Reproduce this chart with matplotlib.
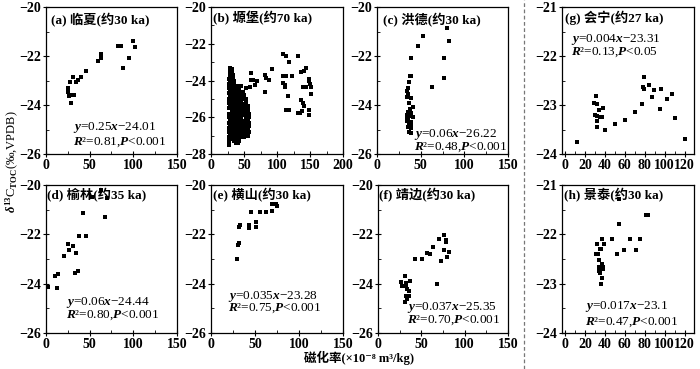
import matplotlib.pyplot as plt
from matplotlib.lines import Line2D
from matplotlib.ticker import MultipleLocator

plt.rcParams['font.family'] = ['Liberation Serif', 'DejaVu Serif', 'Noto Sans CJK SC']
plt.rcParams['mathtext.fontset'] = 'custom'
plt.rcParams['mathtext.rm'] = 'Liberation Serif:bold'
plt.rcParams['mathtext.it'] = 'Liberation Serif:italic:bold'
plt.rcParams['mathtext.bf'] = 'Liberation Serif:bold'
plt.rcParams['font.size'] = 10

# (a) Linxia
a_x = [25.6, 25.6, 26.4, 27.6, 28.3, 28.7, 30.6, 32.1, 34.1, 36.4, 40.2, 45.9,
       60.1, 62.8, 63.2, 83.0, 85.7, 88.0, 94.5, 99.5, 102.2, 25.0]
a_y = [-23.32, -23.40, -23.65, -23.05, -23.60, -23.90, -22.86, -23.60, -23.05,
       -22.98, -22.86, -22.63, -22.22, -21.90, -22.08, -21.58, -21.58, -22.49,
       -22.08, -21.38, -21.65, -23.45]

# (b) Yuanbao, scattered points
b_x = [60.5, 60.5, 64, 70, 66.5, 59, 53, 81.5, 84, 88, 92.5, 82.5,
       109, 113, 117.5, 131.5, 144, 141.5, 136.5, 122.5, 114, 109, 109, 111.5,
       111.5, 116.5, 114, 118, 131.5, 135, 138, 141.5, 140, 136.5, 148, 149,
       148, 148, 150, 151.5, 151.5, 144, 139]
b_y = [-23.60, -23.96, -23.96, -24.00, -24.24, -24.36, -24.42, -23.69, -23.84,
       -23.96, -23.38, -24.60, -22.56, -22.65, -23.00, -22.69, -23.33, -23.47,
       -23.56, -23.78, -23.75, -23.75, -24.11, -24.24, -24.36, -24.82, -25.60,
       -25.60, -25.78, -25.78, -25.64, -25.38, -25.20, -25.05, -25.60, -25.87,
       -23.90, -24.05, -24.18, -24.36, -24.73, -24.33, -24.33]

# (b) Yuanbao, dense cluster read column by column
b_cloud_cols = [27.5, 29.5, 31.5, 33.5, 35.5, 38, 40.5, 43, 45.5, 48, 50.5, 53, 55.5, 58]
b_cloud_ys = [
    [-23.9, -24.2, -24.4, -24.7, -25.0, -25.2, -25.5, -25.8, -26.0, -26.3, -26.6, -26.8, -27.1, -27.3, -27.5],
    [-23.3, -23.5, -23.7, -24.0, -24.2, -24.4, -24.6, -24.9, -25.1, -25.3, -25.5, -25.8, -26.0, -26.2, -26.4, -26.7, -26.9, -27.1],
    [-23.4, -23.6, -23.8, -24.1, -24.3, -24.5, -24.7, -25.0, -25.2, -25.4, -25.6, -25.9, -26.1, -26.3, -26.5, -26.8, -27.0],
    [-23.7, -23.9, -24.1, -24.3, -24.6, -24.8, -25.0, -25.2, -25.5, -25.7, -25.9, -26.1, -26.4, -26.6, -26.8, -27.0, -27.2],
    [-24.0, -24.2, -24.4, -24.7, -24.9, -25.1, -25.3, -25.6, -25.8, -26.0, -26.2, -26.5, -26.7, -26.9, -27.1, -27.3],
    [-24.3, -24.5, -24.7, -25.0, -25.2, -25.4, -25.6, -25.9, -26.1, -26.3, -26.5, -26.8, -27.0, -27.2, -27.4],
    [-24.3, -24.5, -24.8, -25.0, -25.2, -25.4, -25.7, -25.9, -26.1, -26.3, -26.6, -26.8, -27.0, -27.2, -27.4],
    [-24.4, -24.6, -24.9, -25.1, -25.3, -25.5, -25.8, -26.0, -26.2, -26.4, -26.7, -26.9, -27.1, -27.3],
    [-24.3, -24.6, -24.8, -25.0, -25.2, -25.5, -25.7, -25.9, -26.1, -26.4, -26.6, -26.8, -27.0],
    [-24.6, -24.8, -25.0, -25.3, -25.5, -25.7, -25.9, -26.2, -26.4, -26.6, -26.8, -27.1],
    [-24.8, -25.0, -25.3, -25.5, -25.7, -25.9, -26.2, -26.4, -26.6, -26.9, -27.1],
    [-25.0, -25.2, -25.5, -25.7, -25.9, -26.1, -26.4, -26.6, -26.8, -27.0],
    [-25.4, -25.6, -25.9, -26.1, -26.3, -26.6, -26.8, -27.0],
    [-25.8, -26.0, -26.3, -26.5, -26.8],
]

# (c) Hongde
c_x = [80.5, 82.4, 52.2, 46.4, 38.7, 77.1, 77.1, 62.5, 37.6, 38.4, 36.4, 35.7,
       34.9, 35.7, 34.9, 39.5, 36.4, 40.7, 37.6, 35.7, 39.5, 33.8, 37.6, 40.7,
       35.7, 33.8, 38.4, 36.8, 39.5, 35.7, 38.4, 36.8, 39.5, 34.9]
c_y = [-20.86, -21.40, -21.17, -21.60, -22.09, -22.09, -22.88, -23.27, -22.81,
       -22.81, -23.08, -23.30, -23.41, -23.56, -23.66, -23.72, -23.90, -24.07,
       -24.17, -24.27, -24.34, -24.41, -24.45, -24.47, -24.54, -24.64, -24.68,
       -24.77, -24.82, -24.88, -24.95, -25.12, -25.16, -24.50]

# (d) Yulin
d_x = [1.9, 13, 10.3, 13.4, 20.7, 25.6, 26.4, 31.4, 34.1, 33.7, 36.4, 37.9,
       45.5, 42.9, 62.8, 68.1, 52.4, 70.4]
d_y = [-24.13, -24.16, -23.70, -23.59, -22.89, -22.40, -22.64, -22.48, -22.75,
       -23.56, -23.47, -22.06, -22.06, -21.12, -20.20, -21.29, -20.50, -20.54]

# (e) Hengshan
e_x = [29.1, 31.0, 31.7, 31.7, 32.9, 43.0, 42.7, 51.0, 51.7, 45.3, 55.5, 62.3,
       68.8, 69.5, 71.8, 73.7, 75.2, 70.7]
e_y = [-23.01, -22.44, -22.35, -21.72, -21.63, -21.63, -21.76, -21.70, -21.52,
       -21.09, -21.11, -21.10, -21.04, -20.79, -20.75, -20.79, -20.86, -20.75]

# (f) Jingbian
f_x = [26.8, 27.6, 30.6, 32.5, 31.8, 33.3, 35.2, 32.5, 33.3, 31.4, 37.1, 35.2,
       42.9, 50.5, 56.2, 60.0, 63.1, 68.5, 70.6, 72.4, 76.5, 78.5, 78.5, 76.5,
       82.3, 80.0, 34.0]
f_y = [-23.94, -24.11, -23.70, -23.98, -24.11, -24.21, -24.48, -24.48, -24.62,
       -24.75, -23.89, -24.30, -22.99, -23.02, -22.74, -22.78, -22.53, -24.00,
       -22.17, -23.07, -22.01, -22.23, -22.30, -22.63, -22.70, -22.91, -24.55]

# (g) Huining
g_x = [30.7, 29.0, 31.7, 34.3, 29.7, 32.3, 35.0, 36.7, 32.3, 32.0, 37.7, 39.7,
       11.7, 50.0, 60.0, 70.0, 77.3, 79.0, 78.0, 79.0, 84.7, 87.3, 89.7, 96.7,
       95.7, 102.7, 107.0, 110.7, 120.7]
g_y = [-22.81, -22.96, -22.98, -23.10, -23.20, -23.22, -23.25, -23.24, -23.32,
       -23.44, -23.07, -23.50, -23.75, -23.39, -23.30, -23.15, -22.98, -22.43,
       -22.64, -22.67, -22.59, -22.83, -22.70, -22.68, -23.08, -22.88, -22.77,
       -23.27, -23.69]

# (h) Jingtai
h_x = [54.4, 54.4, 81.4, 83.4, 37.6, 46.8, 65.0, 74.8, 32.6, 39.2, 59.0, 70.8,
       51.8, 35.0, 36.6, 31.3, 33.6, 34.0, 36.9, 37.9, 34.6, 35.9, 38.6, 33.9,
       35.3, 36.9, 35.9]
h_y = [-21.29, -21.79, -21.60, -21.60, -22.09, -22.09, -22.09, -22.09, -22.20,
       -22.20, -22.31, -22.31, -22.40, -22.30, -22.30, -22.40, -22.40, -22.52,
       -22.60, -22.66, -22.67, -22.70, -22.71, -22.74, -22.79, -22.89, -23.00]

titles = ['(a) 临夏(约30 ka)', '(b) 塬堡(约70 ka)', '(c) 洪德(约30 ka)', '(g) 会宁(约27 ka)',
          '(d) 榆林(约35 ka)', '(e) 横山(约30 ka)', '(f) 靖边(约30 ka)', '(h) 景泰(约30 ka)']
eq1 = ['$y$=0.25$x$−24.01', None, '$y$=0.06$x$−26.22', '$y$=0.004$x$−23.31',
       '$y$=0.06$x$−24.44', '$y$=0.035$x$−23.28', '$y$=0.037$x$−25.35', '$y$=0.017$x$−23.1']
eq2 = ['$R$²=0.81,$P$<0.001', None, '$R$²=0.48,$P$<0.001', '$R$²=0.13,$P$<0.05',
       '$R$²=0.80,$P$<0.001', '$R$²=0.75,$P$<0.001', '$R$²=0.70,$P$<0.001', '$R$²=0.47,$P$<0.001']

W, H = 700, 369
fig = plt.figure(figsize=(7.0, 3.69), dpi=100)


def panel(px_left, px_top, px_w, px_h):
    return fig.add_axes([px_left / W, 1 - (px_top + px_h) / H, px_w / W, px_h / H])


# pixel boxes, text anchors (axes fraction)
boxes = [(46, 7, 131, 147), (211, 7, 132, 147), (377, 7, 131, 147), (562, 7, 132, 147),
         (46, 185, 131, 148), (211, 185, 132, 148), (378, 185, 130, 148), (562, 185, 132, 148)]
title_pos = [(0.038, 0.91), (0.015, 0.925), (0.046, 0.91), (0.023, 0.925),
             (0.01, 0.93), (0.015, 0.93), (0.01, 0.93), (0.015, 0.93)]
eq_pos = [(0.206, 0.177, 0.082), None, (0.28, 0.13, 0.048), (0.068, 0.776, 0.694),
          (0.153, 0.205, 0.117), (0.13, 0.245, 0.168), (0.225, 0.171, 0.088), (0.178, 0.182, 0.076)]

xs = [a_x, b_x, c_x, g_x, d_x, e_x, f_x, h_x]
ys = [a_y, b_y, c_y, g_y, d_y, e_y, f_y, h_y]

for i in range(8):
    ax = panel(*boxes[i])
    ax.plot(xs[i], ys[i], 's', color='black', markersize=2.8, markeredgewidth=0)
    if i == 1:
        for cx, cys in zip(b_cloud_cols, b_cloud_ys):
            ax.plot([cx] * len(cys), cys, 's', color='black', markersize=3.2, markeredgewidth=0)
        ax.set_xlim(0, 200)
        ax.set_ylim(-28, -20)
        ax.xaxis.set_major_locator(MultipleLocator(50))
        ax.xaxis.set_minor_locator(MultipleLocator(25))
        ax.yaxis.set_major_locator(MultipleLocator(2))
        ax.yaxis.set_minor_locator(MultipleLocator(1))
    elif i in (3, 7):
        ax.set_xlim(-3, 129.5)
        ax.set_ylim(-24, -21)
        ax.xaxis.set_major_locator(MultipleLocator(20))
        ax.xaxis.set_minor_locator(MultipleLocator(10))
        ax.yaxis.set_major_locator(MultipleLocator(1))
        ax.yaxis.set_minor_locator(MultipleLocator(0.5))
    else:
        ax.set_xlim(0, 150)
        ax.set_ylim(-26, -20)
        ax.xaxis.set_major_locator(MultipleLocator(50))
        ax.xaxis.set_minor_locator(MultipleLocator(25))
        ax.yaxis.set_major_locator(MultipleLocator(2))
        ax.yaxis.set_minor_locator(MultipleLocator(1))
    ax.tick_params(which='major', direction='inout', length=4, width=0.8, pad=1.5,
                   labelsize=10)
    ax.tick_params(which='minor', direction='in', length=2, width=0.6)
    for lab in ax.get_xticklabels() + ax.get_yticklabels():
        lab.set_fontweight('bold')
    for s in ax.spines.values():
        s.set_linewidth(0.9)
    tx, ty = title_pos[i]
    ax.text(tx, ty, titles[i], transform=ax.transAxes, va='center', ha='left',
            fontsize=9.5, fontweight='bold')
    if eq_pos[i] is not None:
        ex, ey1, ey2 = eq_pos[i]
        ax.text(ex, ey1, eq1[i], transform=ax.transAxes, va='center', ha='left', fontsize=9.5)
        ax.text(ex, ey2, eq2[i], transform=ax.transAxes, va='center', ha='left', fontsize=9.5)

# dashed separator between the two site groups
fig.add_artist(Line2D([524 / W, 524 / W], [0, 1], color='#777777', lw=0.9, ls=(0, (3, 2))))

fig.text(12 / W, 1 - 162 / H, r'$\delta^{13}$C$_{\rm TOC}$(‰,VPDB)', rotation=90,
         ha='center', va='center', fontsize=9)
fig.text(359 / W, 1 - 358 / H, '磁化率(×10⁻⁸ m³/kg)', ha='center', va='center',
         fontsize=9, fontweight='bold')

fig.savefig('out.png', dpi=100)
